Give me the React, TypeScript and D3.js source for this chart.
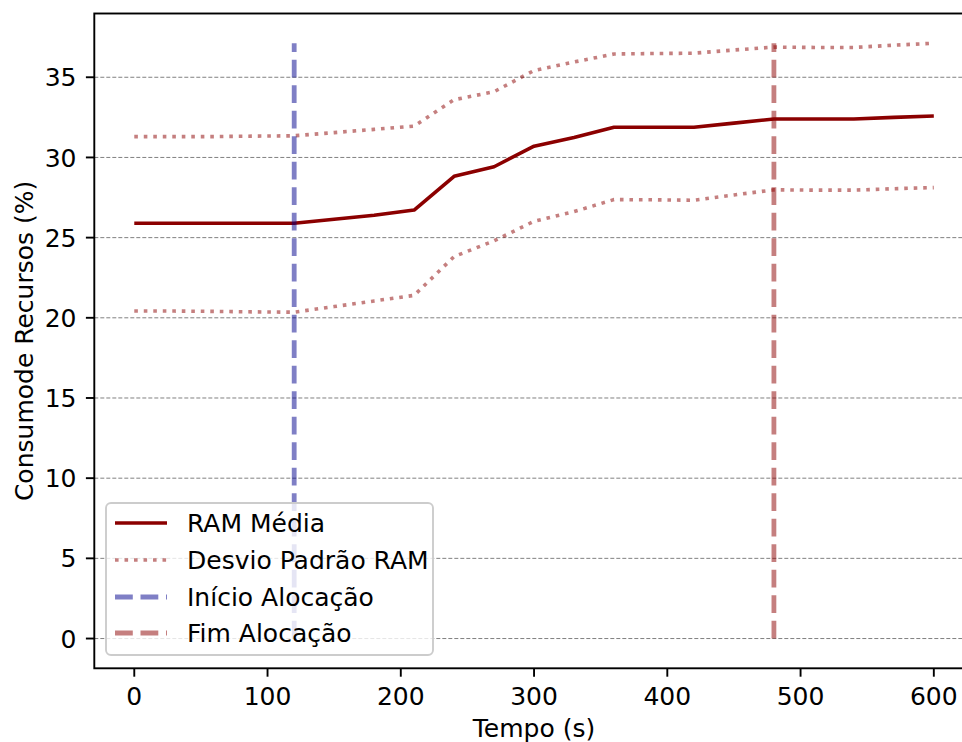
import React from "react";
import * as d3 from "d3";

const times = [0, 30, 60, 90, 120, 150, 180, 210, 240, 270, 300, 330, 360, 390, 420, 450, 480, 510, 540, 570, 600];
const ramMean = [25.9, 25.9, 25.9, 25.9, 25.9, 26.15, 26.4, 26.72, 28.82, 29.42, 30.7, 31.25, 31.88, 31.88, 31.88, 32.14, 32.4, 32.4, 32.4, 32.5, 32.58];
const ramUpper = [31.3, 31.3, 31.3, 31.33, 31.35, 31.55, 31.75, 31.95, 33.6, 34.1, 35.42, 35.95, 36.45, 36.48, 36.5, 36.7, 36.88, 36.86, 36.86, 37.0, 37.12];
const ramLower = [20.42, 20.42, 20.4, 20.37, 20.35, 20.7, 21.05, 21.4, 23.82, 24.8, 26.02, 26.62, 27.37, 27.36, 27.33, 27.66, 27.98, 27.96, 27.96, 28.05, 28.12];
const allocStart = 120;
const allocEnd = 480;
const xTicks = [0, 100, 200, 300, 400, 500, 600];
const yTicks = [0, 5, 10, 15, 20, 25, 30, 35];
const legendLabels = ["RAM Média", "Desvio Padrão RAM", "Início Alocação", "Fim Alocação"];

const W = 962;
const H = 742;
const L = 94.3, R = 973.8, T = 13.5, B = 668.3;
const FONT = "'DejaVu Sans', sans-serif";
const FS = 25;

export default function App() {
  const yMax = d3.max(ramUpper) as number;
  const x = d3.scaleLinear().domain([-30, 630]).range([L, R]);
  const y = d3.scaleLinear().domain([-0.05 * yMax, yMax * 1.05]).range([B, T]);
  const line = d3.line<number>().x((_, i) => x(times[i])).y((v) => y(v));

  const darkred = "#8b0000";
  const redA = "rgba(139,0,0,0.5)";
  const blueA = "rgba(0,0,139,0.5)";

  const legX = 106, legY = 503, legW = 327, legH = 152;
  const rowY = [523, 560, 597, 633];
  const handles = [
    { stroke: darkred, dash: undefined, w: 3.6 },
    { stroke: redA, dash: "3.6,5.9", w: 3.6 },
    { stroke: blueA, dash: "17.8,7.7", w: 4.8 },
    { stroke: redA, dash: "17.8,7.7", w: 4.8 },
  ];
  const off = 0.364 * FS;

  return (
    <div style={{ position: "absolute", left: 0, top: 0 }}>
      <svg width={W} height={H} style={{ display: "block", background: "#fff" }} fontFamily={FONT}>
        <rect x={0} y={0} width={W} height={H} fill="#fff" />
        <defs>
          <clipPath id="plot">
            <rect x={L} y={T} width={R - L} height={B - T} />
          </clipPath>
        </defs>
        {yTicks.map((t) => (
          <line key={"g" + t} x1={L} x2={R} y1={y(t)} y2={y(t)} stroke="#808080" strokeWidth={1} strokeDasharray="4,2" />
        ))}
        <g clipPath="url(#plot)">
          <path d={line(ramUpper) || ""} fill="none" stroke={redA} strokeWidth={3.6} strokeDasharray="3.6,5.9" />
          <path d={line(ramLower) || ""} fill="none" stroke={redA} strokeWidth={3.6} strokeDasharray="3.6,5.9" />
          <path d={line(ramMean) || ""} fill="none" stroke={darkred} strokeWidth={3.6} strokeLinejoin="round" />
          <line x1={x(allocStart)} x2={x(allocStart)} y1={y(0)} y2={y(yMax)} stroke={blueA} strokeWidth={4.8} strokeDasharray="17.8,7.7" />
          <line x1={x(allocEnd)} x2={x(allocEnd)} y1={y(0)} y2={y(yMax)} stroke={redA} strokeWidth={4.8} strokeDasharray="17.8,7.7" />
        </g>
        <rect x={L} y={T} width={R - L} height={B - T} fill="none" stroke="#000" strokeWidth={1.9} />
        {xTicks.map((t) => (
          <g key={"x" + t}>
            <line x1={x(t)} x2={x(t)} y1={B} y2={B + 8.4} stroke="#000" strokeWidth={1.9} />
            <text x={x(t)} y={705} textAnchor="middle" fontSize={FS} fill="#000">{t}</text>
          </g>
        ))}
        {yTicks.map((t) => (
          <g key={"y" + t}>
            <line x1={L - 8.4} x2={L} y1={y(t)} y2={y(t)} stroke="#000" strokeWidth={1.9} />
            <text x={76.5} y={y(t) + off} textAnchor="end" fontSize={FS} fill="#000">{t}</text>
          </g>
        ))}
        <text x={(L + R) / 2} y={737} textAnchor="middle" fontSize={FS} fill="#000">Tempo (s)</text>
        <text transform={`translate(33, ${(T + B) / 2}) rotate(-90)`} textAnchor="middle" fontSize={FS} fill="#000">Consumode Recursos (%)</text>
        <rect x={legX} y={legY} width={legW} height={legH} rx={5} ry={5} fill="rgba(255,255,255,0.8)" stroke="#cccccc" strokeWidth={1.9} />
        {legendLabels.map((lab, i) => (
          <g key={lab}>
            <line x1={115} x2={167} y1={rowY[i]} y2={rowY[i]} stroke={handles[i].stroke} strokeWidth={handles[i].w} strokeDasharray={handles[i].dash} />
            <text x={187} y={rowY[i] + off} fontSize={FS} fill="#000">{lab}</text>
          </g>
        ))}
      </svg>
    </div>
  );
}
